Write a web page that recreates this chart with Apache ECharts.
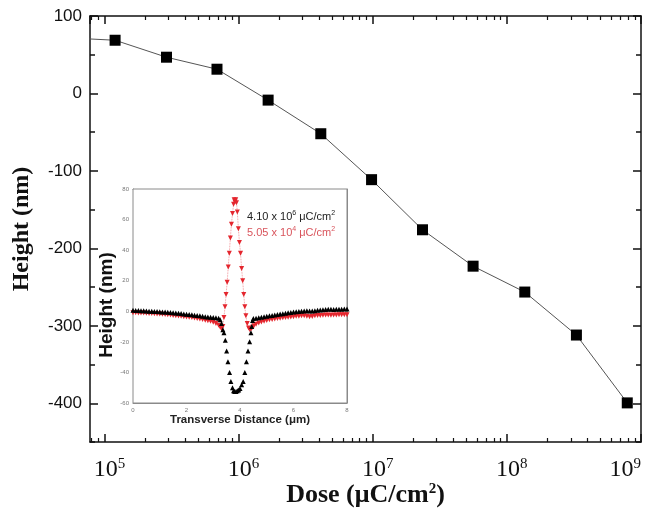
<!DOCTYPE html>
<html>
<head>
<meta charset="utf-8">
<script src="https://cdn.jsdelivr.net/npm/echarts@6/dist/echarts.min.js"></script>
<style>
  html, body { margin: 0; padding: 0; background: #fff; }
  #chart { width: 648px; height: 511px; }
</style>
</head>
<body>
<div id="chart"></div>
<script>
// main plot: dose vs height (first point sits left of the axis range, only its line shows)
const doses = [5.05e4, 1.2e5, 2.9e5, 6.9e5, 1.66e6, 4.1e6, 9.8e6, 2.35e7, 5.6e7, 1.36e8, 3.3e8, 7.9e8];
const heights = [72, 68.7, 46.8, 31.3, -8.6, -52, -111.3, -176, -223, -256.4, -311.9, -399.5];

const yLabelValues = [100, 0, -100, -200, -300, -400];

// inset: height profiles across the line
const blackDist = [0, 0.1, 0.2, 0.3, 0.4, 0.5, 0.6, 0.7, 0.8, 0.9, 1.0, 1.1, 1.2, 1.3, 1.4, 1.5, 1.6, 1.7, 1.8, 1.9,
  2.0, 2.1, 2.2, 2.3, 2.4, 2.5, 2.6, 2.7, 2.8, 2.9, 3.0, 3.1, 3.2,
  3.26, 3.31, 3.36, 3.40, 3.45, 3.50, 3.55, 3.61, 3.66, 3.72, 3.76, 3.80, 3.85, 3.90, 3.95, 4.00, 4.06, 4.12,
  4.18, 4.24, 4.30, 4.36, 4.41, 4.44, 4.47, 4.50,
  4.6, 4.7, 4.8, 4.9, 5.0, 5.1, 5.2, 5.3, 5.4, 5.5, 5.6, 5.7, 5.8, 5.9, 6.0, 6.1, 6.2, 6.3, 6.4, 6.5,
  6.6, 6.7, 6.8, 6.9, 7.0, 7.1, 7.2, 7.3, 7.4, 7.5, 7.6, 7.7, 7.8, 7.9, 8.0];
const blackHeight = [0.6, 0.5, 0.5, 0.4, 0.3, 0.2, 0.1, 0, -0.1, -0.2, -0.3, -0.4, -0.5, -0.6, -0.8, -0.9, -1.1, -1.3, -1.5, -1.7,
  -1.9, -2.1, -2.3, -2.6, -2.8, -3.0, -3.3, -3.5, -3.7, -3.9, -4.1, -4.3, -4.6,
  -5.5, -8, -12, -14, -19, -26, -33, -40, -46, -50, -52, -52.5, -52.5, -52, -51.5, -50.5, -48, -46,
  -40, -33, -26, -20, -14, -10, -6, -4.8,
  -4.5, -4.2, -3.9, -3.6, -3.3, -3.0, -2.7, -2.4, -2.1, -1.8, -1.6, -1.3, -1.0, -0.8, -0.5, -0.3, -0.1, 0.1, 0.2, 0.3,
  0.2, 0.2, 0.4, 0.6, 0.8, 1.0, 1.2, 1.3, 1.3, 1.2, 1.3, 1.4, 1.4, 1.5, 1.5];

const redDist = [0, 0.1, 0.2, 0.3, 0.4, 0.5, 0.6, 0.7, 0.8, 0.9, 1.0, 1.1, 1.2, 1.3, 1.4, 1.5, 1.6, 1.7, 1.8, 1.9,
  2.0, 2.1, 2.2, 2.3, 2.4, 2.5, 2.6, 2.7, 2.8, 2.9, 3.0, 3.1, 3.2,
  3.26, 3.31, 3.36, 3.40, 3.44, 3.48, 3.52, 3.56, 3.60, 3.64, 3.68, 3.72, 3.76, 3.78, 3.81, 3.84, 3.87, 3.90,
  3.94, 3.98, 4.02, 4.06, 4.10, 4.14, 4.18, 4.22, 4.27, 4.32, 4.37, 4.42, 4.47, 4.52,
  4.6, 4.7, 4.8, 4.9, 5.0, 5.1, 5.2, 5.3, 5.4, 5.5, 5.6, 5.7, 5.8, 5.9, 6.0, 6.1, 6.2, 6.3, 6.4, 6.5,
  6.6, 6.7, 6.8, 6.9, 7.0, 7.1, 7.2, 7.3, 7.4, 7.5, 7.6, 7.7, 7.8, 7.9, 8.0];
const redHeight = [-1.0, -1.0, -1.1, -1.1, -1.2, -1.3, -1.4, -1.5, -1.6, -1.7, -1.8, -2.0, -2.1, -2.3, -2.5, -2.7, -2.9, -3.1, -3.3, -3.5,
  -3.7, -3.9, -4.1, -4.4, -4.7, -5.0, -5.4, -5.8, -6.2, -6.6, -7.1, -8.0, -9.2,
  -10.5, -11.5, -10, -4, 3, 11, 19, 29, 38, 48, 57, 64, 70, 73, 71.5, 73, 71, 65,
  54, 45, 38, 28, 20, 11, 3, -3, -8, -11, -12, -11.5, -10.5, -9.5,
  -8.5, -7.6, -7.0, -6.5, -6.0, -5.6, -5.3, -5.0, -4.8, -4.5, -4.3, -4.1, -3.9, -3.7, -3.5, -3.3, -3.2, -3.0, -3.0, -3.2,
  -3.6, -3.4, -3.0, -2.8, -2.8, -2.6, -2.5, -2.5, -2.6, -2.5, -2.4, -2.3, -2.3, -2.2, -2.2];

const zip = (xs, ys) => xs.map((x, i) => [x, ys[i]]);

// minor ticks of the log axis: 2..9 x 10^k
const minorDoses = [8e4, 9e4];
for (let k = 5; k < 9; k++) {
  for (let m = 2; m <= 9; m++) minorDoses.push(m * Math.pow(10, k));
}
const yAllTicks = [];
for (let v = -450; v <= 100; v += 50) yAllTicks.push(v);

const ink = '#111';
const serif = '"Liberation Serif", "Times New Roman", serif';
const sans = '"Liberation Sans", Arial, sans-serif';
const insetGrey = '#8a8a8a';

function logAxis(pos, minor, showLabel) {
  return {
    type: 'log', gridIndex: 0, position: pos, min: 78000, max: 1e9, logBase: 10,
    axisLine: {show: !minor, onZero: false, lineStyle: {color: ink, width: 1.5}},
    axisTick: minor
      ? {show: true, inside: true, length: 4, customValues: minorDoses, lineStyle: {color: ink, width: 1.2}}
      : {show: true, inside: true, length: 8, lineStyle: {color: ink, width: 1.5}},
    axisLabel: showLabel ? {
      margin: 15,
      alignMaxLabel: 'right',
      formatter: function (v) {
        const e = Math.round(Math.log10(v));
        return e === 9 ? '{t|10}{s|9}' : '{b|10}{s|' + e + '}';
      },
      rich: {
        b: {fontFamily: serif, fontSize: 24, color: ink, lineHeight: 26, padding: [0, 0, 0, 10]},
        t: {fontFamily: serif, fontSize: 24, color: ink, lineHeight: 26},
        s: {fontFamily: serif, fontSize: 15, color: ink, lineHeight: 13, verticalAlign: 'top'}
      }
    } : {show: false},
    splitLine: {show: false},
    minorTick: {show: false},
    name: showLabel ? 'Dose (μC/cm{sup|2})' : '',
    nameLocation: 'middle',
    nameGap: 40,
    nameMoveOverlap: false,
    nameTextStyle: {
      fontFamily: serif, fontSize: 26, fontWeight: 'bold', color: ink,
      rich: {sup: {fontFamily: serif, fontSize: 15, fontWeight: 'bold', color: ink, verticalAlign: 'top', lineHeight: 12}}
    }
  };
}

function heightAxis(pos, major, showLabel) {
  return {
    type: 'value', gridIndex: 0, position: pos, min: -450, max: 100, interval: 50,
    axisLine: {show: major, onZero: false, lineStyle: {color: ink, width: 1.5}},
    axisTick: {show: true, inside: true, length: major ? 8 : 5,
      customValues: major ? yLabelValues : yAllTicks, lineStyle: {color: ink, width: 1.5}},
    axisLabel: showLabel ? {
      margin: 8, fontFamily: sans, fontSize: 17, color: ink,
      formatter: v => (yLabelValues.indexOf(v) >= 0 ? String(v) : '')
    } : {show: false},
    splitLine: {show: false},
    name: showLabel ? 'Height (nm)' : '',
    nameLocation: 'middle',
    nameGap: 56,
    nameTextStyle: {fontFamily: serif, fontSize: 24, fontWeight: 'bold', color: ink}
  };
}

function insetAxis(pos, showLabel, opts) {
  return Object.assign({
    type: 'value', gridIndex: 1, position: pos,
    axisLine: {show: true, onZero: false, lineStyle: {color: insetGrey, width: 1}},
    axisTick: {show: true, inside: true, length: 3, lineStyle: {color: insetGrey}},
    axisLabel: showLabel ? {margin: 4, fontFamily: sans, fontSize: 6, color: '#777'} : {show: false},
    splitLine: {show: false}
  }, opts);
}

function legendText(value, power, color, top) {
  return {
    left: 247, top: top, padding: 0,
    text: '{a|' + value + ' x 10}{s|' + power + '}{a| μC/cm}{s|2}',
    textStyle: {rich: {
      a: {fontFamily: sans, fontSize: 11, fontWeight: 'normal', color: color, lineHeight: 14},
      s: {fontFamily: sans, fontSize: 7, fontWeight: 'normal', color: color, lineHeight: 8, verticalAlign: 'top'}
    }}
  };
}

const chart = echarts.init(document.getElementById('chart'), null, {renderer: 'canvas'});

const option = {
  animation: false,
  backgroundColor: '#fff',
  title: [
    legendText('4.10', 6, '#222', 210),
    legendText('5.05', 4, '#d9545c', 226)
  ],
  grid: [
    {left: 90, top: 16, right: 7, bottom: 69, containLabel: false, outerBoundsMode: 'none'},
    {left: 133, top: 189, width: 214, height: 214, show: true, containLabel: false, outerBoundsMode: 'none',
      backgroundColor: '#fff', borderColor: insetGrey, borderWidth: 1, z: 5}
  ],
  xAxis: [
    logAxis('bottom', false, true),
    logAxis('bottom', true, false),
    logAxis('top', false, false),
    logAxis('top', true, false),
    insetAxis('bottom', true, {
      min: 0, max: 8, interval: 2,
      name: 'Transverse Distance (μm)', nameLocation: 'middle', nameGap: 8,
      nameTextStyle: {fontFamily: sans, fontSize: 11.5, fontWeight: 'bold', color: '#222'}
    }),
    insetAxis('top', false, {min: 0, max: 8, interval: 2})
  ],
  yAxis: [
    heightAxis('left', false, false),
    heightAxis('left', true, true),
    heightAxis('right', false, false),
    heightAxis('right', true, false),
    insetAxis('left', true, {
      min: -60, max: 80, interval: 20,
      name: 'Height (nm)', nameLocation: 'middle', nameGap: 15,
      nameTextStyle: {fontFamily: sans, fontSize: 19, fontWeight: 'bold', color: '#111', padding: [0, 18, 0, 0]}
    }),
    insetAxis('right', false, {min: -60, max: 80, interval: 20})
  ],
  series: [
    {
      name: 'height',
      type: 'line',
      xAxisIndex: 0, yAxisIndex: 1,
      data: zip(doses, heights),
      clip: true,
      symbol: 'rect', symbolSize: 11,
      itemStyle: {color: '#000'},
      lineStyle: {color: '#555', width: 1},
      z: 3
    },
    {
      name: '5.05e4',
      type: 'line',
      xAxisIndex: 4, yAxisIndex: 4,
      data: zip(redDist, redHeight),
      symbol: 'triangle', symbolRotate: 180, symbolSize: 5,
      itemStyle: {color: '#e4262e'},
      lineStyle: {color: '#ef7a80', width: 0.8, type: 'dotted'},
      z: 6
    },
    {
      name: '4.10e6',
      type: 'line',
      xAxisIndex: 4, yAxisIndex: 4,
      data: zip(blackDist, blackHeight),
      symbol: 'triangle', symbolSize: 5,
      itemStyle: {color: '#000'},
      lineStyle: {width: 0},
      z: 7
    }
  ]
};

chart.setOption(option);
</script>
</body>
</html>
